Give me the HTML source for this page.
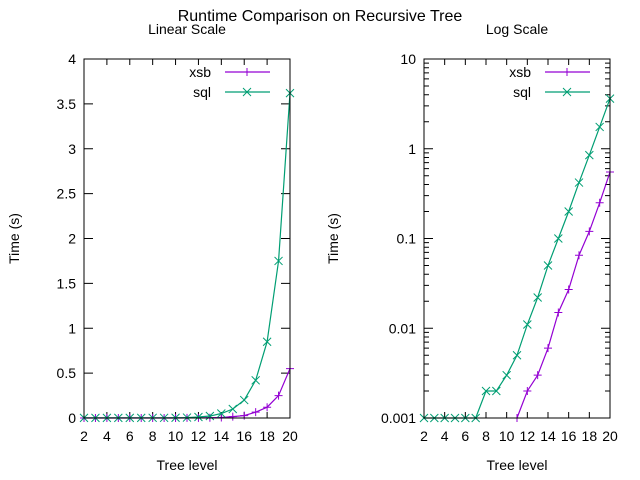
<!DOCTYPE html>
<html><head><meta charset="utf-8"><style>
body{margin:0;background:#fff}
svg{display:block;font-family:"Liberation Sans",sans-serif;font-size:14px}
</style></head><body>
<svg id="c" width="640" height="480" xmlns="http://www.w3.org/2000/svg">
<text x="320" y="21" text-anchor="middle" font-size="16">Runtime Comparison on Recursive Tree</text>
</svg>
<script>
const levels=[2,3,4,5,6,7,8,9,10,11,12,13,14,15,16,17,18,19,20];
const xsbTimes=[0,0,0,0,0,0,0,0,0,0.001,0.002,0.003,0.006,0.015,0.027,0.065,0.12,0.25,0.55];
const sqlTimes=[0.001,0.001,0.001,0.001,0.001,0.001,0.002,0.002,0.003,0.005,0.011,0.022,0.05,0.1,0.2,0.42,0.85,1.75,3.62];
const xTicks=[2,4,6,8,10,12,14,16,18,20];
const linYTicks=[0,0.5,1,1.5,2,2.5,3,3.5,4];
const linYLabels=["0","0.5","1","1.5","2","2.5","3","3.5","4"];
const logYTicks=[0.001,0.01,0.1,1,10];
const logYLabels=["0.001","0.01","0.1","1","10"];
const seriesNames=["xsb","sql"];
const colors=["#9400d3","#009e73"];
const svg=document.getElementById('c');
const NS="http://www.w3.org/2000/svg";
function el(tag,attrs,parent){const e=document.createElementNS(NS,tag);for(const k in attrs)e.setAttribute(k,attrs[k]);(parent||svg).appendChild(e);return e;}
function marker(g,i,x,y){
  if(i===0){el('path',{d:`M${x-4},${y}H${x+4}M${x},${y-4}V${y+4}`,stroke:colors[0],'stroke-width':1},g);}
  else{el('path',{d:`M${x-4},${y-4}L${x+4},${y+4}M${x-4},${y+4}L${x+4},${y-4}`,stroke:colors[1],'stroke-width':1},g);}
}
function panel(opt){
  const {L,R,T,B,log,title,name,yTitleX}=opt;
  const g=el('g',{});
  
  
  const xs=v=>L+(v-2)/18*(R-L);
  const ys=log?(v=>B-(Math.log10(v)+3)/4*(B-T)):(v=>B-v/4*(B-T));
  const t=el('text',{x:(L+R)/2,y:34,'text-anchor':'middle'},g);t.textContent=title;
  
  xTicks.forEach(v=>{const x=xs(v);
    el('path',{d:`M${x},${B}v-6M${x},${T}v6`,stroke:'#000'},g);
    const tx=el('text',{x:x,y:B+23,'text-anchor':'middle'},g);tx.textContent=v;
    });
  const yt=log?logYTicks:linYTicks, yl=log?logYLabels:linYLabels;
  yt.forEach((v,i)=>{const y=ys(v);
    el('path',{d:`M${L},${y}h9M${R},${y}h-9`,stroke:'#000'},g);
    const tx=el('text',{x:L-8,y:y+5,'text-anchor':'end'},g);tx.textContent=yl[i];
    
    if(log&&i<yt.length-1){for(let m=2;m<10;m++){const ym=ys(v*m);el('path',{d:`M${L},${ym}h5M${R},${ym}h-5`,stroke:'#000'},g);}}
  });
  const yl2=el('text',{transform:`translate(${yTitleX},${(T+B)/2}) rotate(-90)`,'text-anchor':'middle'},g);yl2.textContent="Time (s)";
  
  const xl=el('text',{x:(L+R)/2,y:470,'text-anchor':'middle'},g);xl.textContent="Tree level";
  
  const cp='clip-'+name;
  const cd=el('clipPath',{id:cp},g);el('rect',{x:L-5,y:T-5,width:R-L+10,height:B-T+10},cd);
  [xsbTimes,sqlTimes].forEach((arr,si)=>{
    const sg=el('g',{'clip-path':`url(#${cp})`},g);
    
    
    let pts=[];
    levels.forEach((lv,k)=>{const v=arr[k];if(log&&v<=0)return;pts.push([xs(lv),ys(v)]);});
    el('polyline',{points:pts.map(p=>p.join(',')).join(' '),fill:'none',stroke:colors[si],'stroke-width':1.2},sg);
    pts.forEach(p=>marker(sg,si,p[0],p[1]));
    const ly=T+13+si*20;
    const lt=el('text',{x:R-79,y:ly+5,'text-anchor':'end'},g);lt.textContent=seriesNames[si];
    
    el('path',{d:`M${R-65},${ly}h45`,stroke:colors[si],'stroke-width':1.2},g);
    marker(g,si,R-43,ly);
  });
  el('rect',{x:L,y:T,width:R-L,height:B-T,fill:'none',stroke:'#000'},g);
}
panel({L:84,R:290,T:59,B:418,log:false,title:"Linear Scale",name:'linear',yTitleX:19});
panel({L:424,R:610,T:59,B:418,log:true,title:"Log Scale",name:'log',yTitleX:338});
</script>
</body></html>
